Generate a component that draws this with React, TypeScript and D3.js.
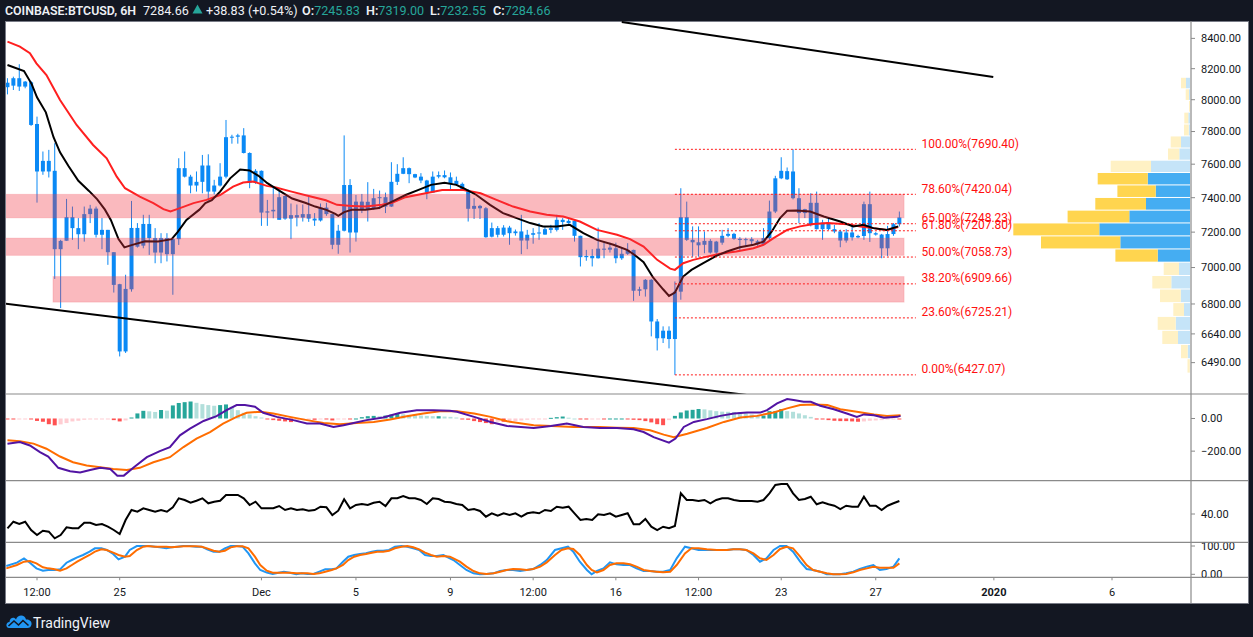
import { useEffect } from "react";
import * as d3 from "d3";

// ---- layout of the TradingView frame ----
const W = 1253;
const H = 637;
const LEFT = 6;
const PLOT_R = 1191; // price axis line
const RIGHT = 1248;
const TOP = 21;
const MAIN_B = 394;
const MACD_B = 480.7;
const RSI_B = 542.3;
const STOCH_B = 577.3;
const BOTTOM = 603;

const FONT = "Roboto, 'Noto Sans', sans-serif";

// ---- COINBASE:BTCUSD 6H candles, Nov 20 06:00 .. Dec 28 00:00 ----
const opens = [
  8080, 8090, 8138, 8084, 8112, 7847, 7556, 7620, 7560, 7103, 7151, 7286, 7223, 7188, 7304, 7336, 7185, 7213, 7086, 6908,
  6548, 6880, 7224, 7123, 7247, 7166, 7084, 7166, 7075, 7160, 7576, 7525, 7472, 7494, 7592, 7436, 7472, 7525, 7765, 7768,
  7776, 7668, 7488, 7560, 7313, 7320, 7271, 7410, 7278, 7298, 7284, 7304, 7278, 7267, 7342, 7304, 7128, 7208, 7475, 7198,
  7377, 7330, 7340, 7397, 7403, 7348, 7494, 7542, 7576, 7540, 7525, 7502, 7430, 7525, 7534, 7521, 7478, 7482, 7446, 7335,
  7352, 7338, 7174, 7223, 7185, 7226, 7194, 7204, 7152, 7185, 7194, 7186, 7213, 7213, 7271, 7252, 7265, 7179, 7058, 7065,
  7052, 7106, 7100, 7108, 7052, 7077, 7099, 6872, 6880, 6932, 6706, 6617, 6657, 6613, 6867, 7286, 7156, 7142, 7128, 7150,
  7084, 7140, 7179, 7190, 7162, 7155, 7160, 7148, 7130, 7166, 7319, 7515, 7509, 7556, 7397, 7310, 7240, 7370, 7217, 7255,
  7217, 7204, 7152, 7198, 7170, 7178, 7362, 7194, 7186, 7108, 7189, 7245.83,
];
const highs = [
  8138, 8148, 8229, 8120, 8120, 7893, 7677, 7687, 7728, 7156, 7393, 7348, 7281, 7348, 7358, 7348, 7281, 7213, 7086, 6910,
  6960, 7381, 7252, 7300, 7300, 7223, 7194, 7194, 7166, 7636, 7677, 7536, 7556, 7656, 7660, 7506, 7606, 7872, 7780, 7786,
  7821, 7672, 7570, 7562, 7387, 7470, 7450, 7412, 7366, 7360, 7360, 7416, 7310, 7366, 7370, 7306, 7242, 7776, 7510, 7416,
  7422, 7492, 7452, 7442, 7430, 7612, 7600, 7642, 7580, 7542, 7546, 7506, 7556, 7556, 7562, 7550, 7525, 7490, 7450, 7397,
  7358, 7345, 7255, 7235, 7240, 7236, 7215, 7300, 7213, 7223, 7252, 7233, 7242, 7300, 7281, 7275, 7268, 7180, 7099, 7103,
  7226, 7140, 7140, 7140, 7108, 7137, 7100, 6894, 6936, 6936, 6719, 6680, 6680, 6923, 7456, 7377, 7233, 7233, 7204, 7160,
  7150, 7213, 7223, 7196, 7171, 7168, 7171, 7156, 7223, 7383, 7530, 7642, 7580, 7690.4, 7456, 7335, 7426, 7436, 7271, 7276,
  7242, 7214, 7217, 7246, 7185, 7377, 7436, 7200, 7190, 7236, 7252, 7319.0,
];
const lows = [
  8034, 8062, 8056, 8073, 7835, 7371, 7536, 7520, 6937, 6778, 7151, 7156, 7103, 7146, 7252, 7169, 7103, 7015, 6862, 6522,
  6540, 6867, 7112, 7108, 7071, 7024, 7024, 7034, 6850, 7127, 7520, 7426, 7436, 7426, 7382, 7420, 7466, 7515, 7725, 7725,
  7665, 7456, 7482, 7236, 7236, 7280, 7271, 7271, 7160, 7233, 7261, 7259, 7236, 7261, 7294, 7103, 7077, 7204, 7084, 7146,
  7310, 7261, 7329, 7333, 7310, 7346, 7475, 7540, 7486, 7516, 7486, 7391, 7430, 7515, 7515, 7450, 7470, 7440, 7261, 7276,
  7276, 7168, 7170, 7170, 7175, 7128, 7180, 7075, 7103, 7134, 7156, 7185, 7194, 7204, 7213, 7248, 7146, 7006, 7038, 7006,
  7050, 7052, 7084, 7024, 7043, 7071, 6817, 6844, 6840, 6627, 6553, 6592, 6564, 6427.07, 6823, 7150, 7060, 7061, 7080, 7078,
  7075, 7128, 7171, 7156, 7095, 7118, 7128, 7122, 7125, 7156, 7310, 7510, 7505, 7390, 7252, 7281, 7233, 7215, 7156, 7212,
  7194, 7114, 7140, 7152, 7165, 7156, 7144, 7180, 7052, 7065, 7179, 7232.55,
];
const closes = [
  8109, 8138, 8084, 8116, 7841, 7556, 7620, 7556, 7103, 7150, 7286, 7223, 7188, 7304, 7336, 7185, 7213, 7086, 6904, 6548,
  6882, 7224, 7117, 7247, 7166, 7084, 7166, 7075, 7160, 7576, 7525, 7472, 7494, 7592, 7436, 7472, 7525, 7765, 7768, 7776,
  7668, 7488, 7560, 7313, 7320, 7329, 7403, 7278, 7298, 7284, 7304, 7278, 7267, 7342, 7304, 7128, 7208, 7475, 7198, 7377,
  7330, 7376, 7397, 7403, 7348, 7494, 7542, 7576, 7540, 7520, 7502, 7430, 7525, 7534, 7521, 7480, 7500, 7446, 7335, 7352,
  7338, 7171, 7223, 7185, 7226, 7194, 7204, 7152, 7185, 7194, 7198, 7217, 7223, 7271, 7258, 7265, 7179, 7058, 7065, 7052,
  7106, 7100, 7112, 7052, 7077, 7099, 6872, 6880, 6932, 6706, 6617, 6657, 6613, 6867, 7286, 7156, 7142, 7125, 7150, 7084,
  7146, 7179, 7190, 7162, 7155, 7160, 7148, 7130, 7166, 7319, 7515, 7560, 7558, 7397, 7310, 7333, 7370, 7217, 7255, 7217,
  7204, 7152, 7198, 7170, 7178, 7362, 7194, 7186, 7108, 7189, 7246, 7284.66,
];

// moving averages: [bar index, price]
const emaFast: [number, number][] = [
  [0, 8224], [2.8, 8185], [4.1, 8100], [5, 8015], [6.5, 7920], [7.8, 7765], [8.9, 7672], [10.3, 7590], [12, 7500],
  [13.8, 7440], [15.2, 7390], [16.5, 7330], [17.5, 7270], [18.8, 7160], [19.8, 7113], [21, 7126], [23.3, 7148],
  [25.5, 7146], [27.8, 7160], [28.8, 7200], [30.3, 7270], [32.5, 7330], [33.5, 7368], [34.6, 7385], [36, 7436],
  [37.7, 7515], [39.4, 7568], [41, 7562], [42.5, 7530], [44, 7486], [46, 7442], [48.2, 7395], [50.4, 7370],
  [52.1, 7348], [54, 7329], [55.5, 7305], [56, 7294], [57, 7316], [58.3, 7329], [60.6, 7329], [62.9, 7339],
  [65.1, 7377], [67.4, 7416], [69.6, 7446], [71.7, 7476], [74, 7488], [76, 7476], [77.2, 7456], [79.4, 7416],
  [81.7, 7358], [83.9, 7310], [86.2, 7281], [88.5, 7252], [90.7, 7233], [93, 7233], [95.2, 7242], [97.5, 7194],
  [99.8, 7156], [102.6, 7128], [104.9, 7099], [106.2, 7070], [107.7, 7030], [109.3, 6945], [111, 6880], [112, 6844],
  [113, 6862], [114.4, 6950], [115.8, 6987], [117.8, 7024], [120, 7065], [121.8, 7090], [124, 7114], [126.3, 7128],
  [128, 7146], [129.4, 7204], [130.8, 7281], [132, 7323], [133.6, 7325], [135.9, 7319], [138.2, 7290], [141, 7261],
  [143.2, 7233], [144.9, 7242], [146.6, 7223], [148.9, 7213], [150.8, 7233],
];
const emaSlow: [number, number][] = [
  [0, 8378], [2.1, 8345], [3.8, 8302], [4.9, 8235], [6.6, 8159], [8.9, 7998], [11.7, 7841], [14.5, 7717],
  [16.8, 7636], [18.5, 7525], [19.9, 7456], [22.4, 7406], [24.7, 7368], [26.4, 7333], [27.6, 7319], [29.2, 7339],
  [31.5, 7368], [33.7, 7387], [36, 7416], [38.2, 7466], [39.9, 7490], [41.6, 7496], [43.9, 7470], [45.3, 7462],
  [48.1, 7436], [51, 7410], [53.9, 7385], [55.8, 7358], [58.3, 7352], [60.6, 7348], [63.4, 7358], [65.1, 7370],
  [67.4, 7403], [70.8, 7426], [73.6, 7446], [77.2, 7446], [80.1, 7426], [82.8, 7387], [85.6, 7348], [88.5, 7319],
  [91.3, 7300], [94.1, 7290], [96.9, 7261], [99.8, 7213], [103.2, 7185], [105.4, 7160], [107.7, 7118], [110, 7043],
  [112.2, 6994], [113, 6987], [114.4, 7024], [116.1, 7043], [118.4, 7061], [120.6, 7077], [123.4, 7090],
  [126.3, 7108], [128, 7128], [129.7, 7166], [132, 7213], [134.2, 7233], [136.5, 7247], [138.8, 7252],
  [142.2, 7246], [144.4, 7233], [146.6, 7223], [148.9, 7213], [150.8, 7229],
];

// drawings
const zoneLow = [7282, 7068, 6810];
const zoneHigh = [7420, 7166, 6950];
const zoneStart = [-3, -3, 7.7];
const zoneEnd = 151.8;

const fibPct = [100, 78.6, 65, 61.8, 50, 38.2, 23.6, 0];
const fibPrice = [7690.4, 7420.04, 7248.23, 7207.8, 7058.73, 6909.66, 6725.21, 6427.07];
const fibStart = 113;
const fibEnd = 153.8;

const trendUpper: [number, number][] = [[104, 8510], [166.9, 8146]];
const trendLower: [number, number][] = [[-0.3, 6801], [126, 6322]];

// visible range volume profile, bottom row first
const vpLow = 6436;
const vpStep = 74.26;
const vpDown = [23, 67, 157, 180, 107, 207, 190, 153, 423, 793, 860, 617, 507, 383, 500, 403, 113, 103, 47, 40, 10, 33, 50];
const vpUp = [2, 23, 120, 143, 60, 93, 187, 110, 323, 697, 907, 607, 440, 343, 423, 390, 107, 90, 13, 17, 0, 10, 40];
const vaFirst = 8;
const vaLast = 14;

// MACD
const macdHist = [
  -3, -3, -2, -1, -6, -15, -20, -35, -42, -36, -28, -18, -14, -8, -5, -4, -3, -2, -10, -18, -12,
  6, 31, 47, 44, 40, 52, 48, 80, 95, 100, 104, 96, 88, 82, 78, 82, 86, 72, 51, 35, 25, 14, 6,
  -6, -10, -14, -18, -22, -14, -10, -8, -8, -6, -6, -12, -6, -3, -3, 0, 8, 14, 16, 14, 18, 24, 30, 26, 22, 20, 18, 16,
  14, 14, 12, 10,
  6, -4, -8, -16, -22, -28, -35, -20, -20, -18, -16, -12, -8, -5, -3, -1, 4, 8, 12, 5, 0, -5, -6, -3, -2, -2, 0, 0, 0,
  -6, -8, -10, -16, -24, -35, -41, -10, 16, 37, 49, 53, 58, 56, 50, 45, 42, 41, 40, 37, 33, 25, 16, 18, 45, 45, 58, 45,
  41, 31, 20, 10, -4, -6, -10, -14, -16, -16, -18, -20, -18, -14, -12, -10, -6, -4, -6,
];
const macdLine: [number, number][] = [
  [0, -154], [2.1, -144], [3.8, -165], [5.5, -206], [6.9, -233], [8.6, -302], [10.6, -323], [12.3, -330], [14, -315],
  [15.7, -302], [17.4, -309], [18.6, -350], [19.7, -350], [21.3, -302], [23.6, -237], [25.8, -200], [27.5, -175],
  [29.2, -103], [30.9, -62], [33.2, -15], [35.4, 14], [37.1, 51], [38.8, 82], [40.2, 82], [41.9, 72], [43.3, 35],
  [45.6, 10], [48.4, -10], [50.7, -31], [52.9, -31], [55.2, -52], [56.9, -41], [58.6, -27], [60.8, -10], [63.6, 6],
  [66.5, 35], [69.3, 51], [72.1, 51], [74.9, 48], [76.1, 41], [79, 10], [81.8, -21], [84.6, -46], [89.1, -58],
  [92, -46], [94.7, -31], [97.5, -52], [100.3, -58], [103.2, -58], [106, -66], [107.7, -83], [109.4, -114],
  [112, -148], [113.1, -123], [114.5, -52], [116.2, -21], [118.4, -4], [120.7, 16], [123, 31], [125.2, 37],
  [127.5, 37], [128.6, 51], [130.3, 93], [132, 119], [133.1, 113], [134.8, 102], [136, 102], [137.6, 78],
  [139.9, 57], [142.1, 31], [143.8, 10], [145, 25], [146.7, 20], [148.4, 4], [150.6, 10], [151.2, 16],
];
const macdSignal: [number, number][] = [
  [0, -134], [2.1, -140], [4.4, -154], [6.6, -185], [8.9, -233], [11.1, -268], [13.4, -288], [15.7, -299],
  [17.9, -309], [20.2, -315], [22.4, -302], [24.7, -268], [27.5, -237], [29.8, -175], [32, -123], [34.3, -83],
  [36.5, -31], [38.8, 10], [40.5, 35], [42.8, 41], [45, 31], [47.8, 10], [50.7, -10], [53.5, -27], [56.3, -35],
  [59.1, -27], [62, -21], [64.8, -6], [67.6, 14], [70.4, 31], [73.2, 45], [76.1, 45], [79, 31], [81.8, 10],
  [84.6, -17], [89.1, -41], [93.1, -48], [95.9, -52], [100.3, -52], [103.2, -56], [106, -58], [108.8, -72],
  [111.1, -99], [112.8, -114], [115.1, -93], [118.4, -58], [121.3, -21], [124.1, 6], [126.9, 16], [129.7, 37],
  [132, 62], [134.2, 82], [136.5, 86], [138.8, 82], [141, 57], [143.8, 41], [146.7, 25], [148.9, 16], [151.2, 20],
];

// RSI, one value per bar
const rsi = [
  25.7, 32.3, 30, 32.3, 24, 19, 23.3, 22.3, 15.7, 19, 26.7, 25.7, 25.7, 31.3, 31.3, 29, 30, 27.3, 24, 20,
  34, 44, 42.3, 45.7, 44, 42.3, 44, 42.3, 46.7, 55.7, 54, 51.3, 53.3, 55.7, 50.7, 52.3, 53.3, 59, 59, 59,
  55.7, 49, 52.3, 45.7, 45.7, 45.7, 48, 44, 45.7, 44, 44.7, 43.3, 44, 47.3, 46.7, 39, 43.3, 54.7, 45.7, 49,
  50, 49, 51.3, 52.3, 48, 55.7, 55.7, 58, 55.7, 55.7, 54, 50, 55.7, 55, 52.3, 51.7, 50, 49, 44, 45,
  43, 37.3, 40.7, 38.3, 40.7, 39, 40.7, 37.3, 40.7, 41.7, 40.7, 44, 43, 47.3, 46.3, 47.3, 40.7, 34, 35, 34,
  39.7, 39, 40.7, 37.3, 39, 40.7, 29.7, 29.7, 35, 27.3, 24, 27.3, 25.7, 28, 60.7, 54, 54, 53, 54, 50.7,
  54, 55.7, 55.7, 54, 53, 53, 53, 52.3, 54, 60.7, 69, 70, 70, 60.7, 54, 55, 57.3, 49.7, 51.7, 49.7,
  48.3, 45, 48.3, 47.3, 47.3, 57.3, 48.3, 48.3, 44, 48.3, 50.7, 53,
];

// Stochastic %K / %D, sampled at these bar positions
const stochIdx = [
  -0.2, 1.6, 2.8, 3.8, 4.9, 6, 6.9, 8, 8.9, 10, 10.9, 11.8, 12.8, 13.9, 14.8, 15.9, 16.8, 17.9, 18.8, 19.9,
  20.7, 21.9, 23, 23.8, 25, 25.8, 26.9, 27.8, 28.8, 29.8, 30.9, 31.9, 32.9, 33.8, 34.9, 35.9, 36.8, 37.8, 38.8, 39.8,
  40.8, 41.9, 42.8, 43.9, 44.9, 45.9, 46.8, 47.8, 48.9, 49.8, 50.8, 51.8, 52.8, 53.8, 54.9, 55.7, 56.8, 57.7, 58.7, 59.7,
  60.7, 61.7, 62.6, 63.6, 64.6, 65.6, 66.7, 67.7, 68.7, 69.7, 70.7, 71.7, 72.7, 73.8, 74.9,
  75.5, 76.6, 77.7, 78.9, 80, 81.1, 82.3, 83.4, 84.5, 85.6, 86.8, 87.9, 89, 90.2, 91.3, 92.7, 93.8, 94.9, 95.8, 96.9,
  98.1, 98.9, 99.8, 100.9, 102, 103.1, 104.3, 105.4, 106.5, 107.7, 108.8, 109.9, 111, 112.2, 113.3, 114.7, 115.8, 117,
  118.4, 120.1, 121.8, 122.9, 124, 125.1, 126.3, 127.4, 128.5, 129.7, 130.8, 131.9, 133, 134.2, 135.3, 136.4, 137.6,
  138.7, 139.8, 140.9, 142, 143.2, 144.3, 145.5, 146.6, 147.7, 148.8, 150, 151,
];
const stochK = [
  29.3, 41, 56.4, 41, 21, 12.8, 15.2, 15.2, 17.5, 41, 50.5, 60, 68.2, 80, 91.8, 91.8, 85.9, 71.7, 52.9, 62.3,
  85.9, 100, 100, 100, 97.6, 95.3, 91.8, 95.3, 97.6, 100, 100, 97.6, 97.6, 88.2, 80, 80, 91.8, 100, 100, 97.6,
  74.1, 38.8, 15.2, 5.8, 1, 5.8, 9.3, 5.8, 0, 3.4, 1, 1, 9.3, 17.5, 17.5, 21, 44.6, 62.3, 68.2, 71.7,
  74.1, 80, 83.5, 83.5, 85.9, 97.6, 100, 97.6, 91.8, 85.9, 68.2, 64.7, 64.7, 68.2, 56.4,
  50.5, 32.9, 15.2, 3.4, 0, 1, 3.4, 11.7, 15.2, 15.2, 11.7, 15.2, 18.7, 32.9, 50.5, 85.9, 91.8, 97.6, 80, 44.6,
  15.2, 0, 11.7, 21, 42.3, 35.2, 32.9, 32.9, 21, 11.7, 11.7, 9.3, 9.3, 15.2, 56.4, 97.6, 91.8, 85.9,
  85.9, 85.9, 85.9, 88.2, 88.2, 85.9, 68.2, 44.6, 56.4, 85.9, 100, 100, 80, 44.6, 18.7, 15.2, 9.3,
  0, 0, 0, 3.4, 9.3, 18.7, 27, 32.9, 15.2, 18.7, 27, 56.4,
];
const stochD = [
  21, 32.9, 44.6, 47, 38.8, 24.6, 21, 17.5, 12.8, 21, 32.9, 44.6, 56.4, 68.2, 80, 88.2, 85.9, 76.4, 68.2, 62.3,
  64.7, 85.9, 97.6, 100, 97.6, 97.6, 97.6, 95.3, 97.6, 99, 99, 99, 97.6, 91.8, 83.5, 80, 83.5, 95.3, 99, 99,
  91.8, 62.3, 32.9, 12.8, 5.8, 5.8, 5.8, 5.8, 3.4, 3.4, 3.4, 1, 3.4, 9.3, 15.2, 21, 32.9, 50.5, 62.3, 68.2,
  71.7, 76.4, 80, 80, 83.5, 91.8, 97.6, 100, 95.3, 88.2, 76.4, 68.2, 62.3, 64.7, 62.3,
  56.4, 44.6, 27, 11.7, 3.4, 1, 3.4, 9.3, 15.2, 18.7, 17.5, 15.2, 18.7, 27, 42.3, 68.2, 85.9, 91.8, 89.5, 68.2,
  32.9, 15.2, 7, 15.2, 32.9, 38.8, 38.8, 35.2, 27, 15.2, 11.7, 9.3, 7, 9.3, 32.9, 74, 91.8, 91.8,
  88.2, 85.9, 85.9, 88.2, 88.2, 85.9, 74, 56.4, 50.5, 68.2, 89.5, 97.6, 91.8, 62.3, 32.9, 15.2, 9.3,
  3.4, 0, 0, 1, 7, 15.2, 21, 27, 23.4, 23.4, 23.4, 38.8,
];

// axes
const priceTicks = [8400, 8200, 8000, 7800, 7600, 7400, 7200, 7000, 6800, 6640, 6490];
const macdTicks = [0, -200];
const rsiTicks = [40];
const stochTicks = [100, 0];
const timeTickIdx = [5, 19, 43, 59, 75, 89, 103, 117, 131, 147, 167, 187];
const timeTickLabel = ["12:00", "25", "Dec", "5", "9", "12:00", "16", "12:00", "23", "27", "2020", "6"];

const CANDLE = "#0a89f5";
const TEAL = "#26a69a";

export default function App() {
  useEffect(() => {
    document.body.style.margin = "0";
    document.body.style.background = "#131722";
  }, []);

  const x = d3.scaleLinear().domain([5, 187]).range([37, 1112]);
  const y = d3.scaleLog().domain([6330, 8517]).range([MAIN_B, TOP]);
  const yMacd = d3.scaleLinear().domain([-381, 150]).range([MACD_B, MAIN_B]);
  const yRsi = d3.scaleLinear().domain([11.7, 73.3]).range([RSI_B, MACD_B]);
  const yStoch = d3.scaleLinear().domain([-10.6, 113.1]).range([STOCH_B, RSI_B]);
  const vpW = d3.scaleLinear().domain([0, 1767]).range([0, 176.7]);

  const priceLine = d3.line<[number, number]>().x((d) => x(d[0])).y((d) => y(d[1]));
  const macdPath = d3.line<[number, number]>().x((d) => x(d[0])).y((d) => yMacd(d[1]));
  const rsiPath = d3.line<number>().x((_, i) => x(i)).y((d) => yRsi(d));
  const stochPath = (vals: number[]) =>
    d3.line<number>().x((_, i) => x(stochIdx[i])).y((d) => yStoch(Math.max(0, Math.min(100, d))))(vals) ?? "";

  const axisLabel = { fontFamily: FONT, fontSize: 11, fill: "#131722" };
  const head = { fontFamily: FONT, fontSize: 12.6, fill: "#eef0f5" };

  return (
    <svg width={W} height={H} style={{ display: "block", position: "absolute", left: 0, top: 0 }}>
      <defs>
        <clipPath id="cMain">
          <rect x={LEFT} y={TOP} width={PLOT_R - LEFT} height={MAIN_B - TOP} />
        </clipPath>
        <clipPath id="cMacd">
          <rect x={LEFT} y={MAIN_B} width={PLOT_R - LEFT} height={MACD_B - MAIN_B} />
        </clipPath>
        <clipPath id="cRsi">
          <rect x={LEFT} y={MACD_B} width={PLOT_R - LEFT} height={RSI_B - MACD_B} />
        </clipPath>
        <clipPath id="cStoch">
          <rect x={LEFT} y={RSI_B} width={PLOT_R - LEFT} height={STOCH_B - RSI_B} />
        </clipPath>
        <clipPath id="cStochAxis">
          <rect x={PLOT_R} y={RSI_B + 0.5} width={RIGHT - PLOT_R} height={STOCH_B - RSI_B - 0.5} />
        </clipPath>
      </defs>

      <rect width={W} height={H} fill="#131722" />

      {/* header */}
      <text x={5} y={14.5} {...head} fontWeight={600} textLength={131} lengthAdjust="spacingAndGlyphs">
        COINBASE:BTCUSD, 6H
      </text>
      <text y={14.5} {...head}>
        <tspan x={143}>7284.66</tspan>
        <tspan x={206}>+38.83 (+0.54%)</tspan>
        <tspan x={302} fontWeight={600}>O:</tspan>
        <tspan fill={TEAL}>7245.83</tspan>
        <tspan x={366} fontWeight={600}>H:</tspan>
        <tspan fill={TEAL}>7319.00</tspan>
        <tspan x={430} fontWeight={600}>L:</tspan>
        <tspan fill={TEAL}>7232.55</tspan>
        <tspan x={493} fontWeight={600}>C:</tspan>
        <tspan fill={TEAL}>7284.66</tspan>
      </text>
      <path d="M192.5 13.5 L197.5 4.5 L202.5 13.5 Z" fill={TEAL} />

      {/* chart canvas */}
      <rect x={5.5} y={21.5} width={1243} height={582} fill="#ffffff" stroke="#787b86" />

      {/* main pane */}
      <g clipPath="url(#cMain)">
        {vpDown.map((dn, b) => {
          const up = vpUp[b];
          const yTop = y(vpLow + (b + 1) * vpStep) + 0.5;
          const yBot = y(vpLow + b * vpStep) - 0.5;
          const inVa = b >= vaFirst && b <= vaLast;
          const wu = vpW(up);
          const wd = vpW(dn);
          const xr = PLOT_R - 1;
          return (
            <g key={"vp" + b}>
              <rect x={xr - wu} y={yTop} width={wu} height={yBot - yTop} fill={inVa ? "#45adf2" : "#c5e4f8"} />
              <rect x={xr - wu - wd} y={yTop} width={wd} height={yBot - yTop} fill={inVa ? "#ffd54f" : "#fff1c4"} />
            </g>
          );
        })}

        {opens.map((o, i) => {
          const c = closes[i];
          const cx = x(i);
          const top = y(Math.max(o, c));
          const bot = y(Math.min(o, c));
          return (
            <g key={"c" + i}>
              <line x1={cx} x2={cx} y1={y(highs[i])} y2={y(lows[i])} stroke={CANDLE} strokeWidth={1} />
              <rect x={cx - 2} y={top} width={4} height={Math.max(1, bot - top)} fill={CANDLE} />
            </g>
          );
        })}

        <path d={priceLine(emaSlow) ?? ""} fill="none" stroke="#ff1f1f" strokeWidth={2} />
        <path d={priceLine(emaFast) ?? ""} fill="none" stroke="#000000" strokeWidth={2} />

        {zoneLow.map((lo, k) => (
          <rect
            key={"z" + k}
            x={x(zoneStart[k])}
            y={y(zoneHigh[k])}
            width={x(zoneEnd) - x(zoneStart[k])}
            height={y(lo) - y(zoneHigh[k])}
            fill="rgba(242,54,69,0.35)"
            stroke="rgba(242,54,69,0.15)"
          />
        ))}

        {fibPrice.map((p, k) => (
          <g key={"f" + k}>
            <line
              x1={x(fibStart)}
              x2={x(fibEnd)}
              y1={y(p)}
              y2={y(p)}
              stroke="#ff1a1a"
              strokeWidth={1}
              strokeDasharray="2,2"
            />
            <text x={x(fibEnd) + 5.5} y={y(p) - 1.5} fontFamily={FONT} fontSize={12} fill="#ff1010">
              {`${fibPct[k].toFixed(2)}%(${p.toFixed(2)})`}
            </text>
          </g>
        ))}

        {[trendUpper, trendLower].map((tl, k) => (
          <path key={"t" + k} d={priceLine(tl) ?? ""} stroke="#000" strokeWidth={2} fill="none" />
        ))}
      </g>

      {/* MACD */}
      <g clipPath="url(#cMacd)">
        {macdHist.map((v, i) => {
          const prev = i > 0 ? macdHist[i - 1] : v;
          const fill = v >= 0 ? (v >= prev ? TEAL : "#b2dfdb") : v <= prev ? "#ff5252" : "#ffcdd2";
          const y0 = yMacd(0);
          const y1 = yMacd(v);
          return (
            <rect
              key={"h" + i}
              x={x(i) - 2}
              y={Math.min(y0, y1)}
              width={4}
              height={Math.max(1, Math.abs(y1 - y0))}
              fill={fill}
            />
          );
        })}
        <path d={macdPath(macdSignal) ?? ""} fill="none" stroke="#ff6d00" strokeWidth={2} />
        <path d={macdPath(macdLine) ?? ""} fill="none" stroke="#5214a3" strokeWidth={2} />
      </g>

      {/* RSI */}
      <g clipPath="url(#cRsi)">
        <path d={rsiPath(rsi) ?? ""} fill="none" stroke="#000" strokeWidth={2} />
      </g>

      {/* Stochastic */}
      <g clipPath="url(#cStoch)">
        <path d={stochPath(stochK)} fill="none" stroke="#2196f3" strokeWidth={2} />
        <path d={stochPath(stochD)} fill="none" stroke="#ff6d00" strokeWidth={2} />
      </g>

      {/* pane separators */}
      {[MAIN_B, MACD_B, RSI_B, STOCH_B].map((sy, k) => (
        <line key={"s" + k} x1={LEFT} x2={RIGHT} y1={sy} y2={sy} stroke="#8a8a8a" strokeWidth={1.2} />
      ))}
      <line x1={PLOT_R} x2={PLOT_R} y1={TOP} y2={BOTTOM} stroke="#8a8a8a" strokeWidth={1.2} />

      {/* price axis */}
      {priceTicks.map((p) => (
        <g key={"p" + p}>
          <line x1={PLOT_R} x2={PLOT_R + 4} y1={y(p)} y2={y(p)} stroke="#8a8a8a" />
          <text x={1201} y={y(p)} dy="0.35em" {...axisLabel}>
            {p.toFixed(2)}
          </text>
        </g>
      ))}
      {macdTicks.map((v) => (
        <g key={"m" + v}>
          <line x1={PLOT_R} x2={PLOT_R + 4} y1={yMacd(v)} y2={yMacd(v)} stroke="#8a8a8a" />
          <text x={1201} y={yMacd(v)} dy="0.35em" {...axisLabel}>
            {v < 0 ? "\u2212" + Math.abs(v).toFixed(2) : v.toFixed(2)}
          </text>
        </g>
      ))}
      {rsiTicks.map((v) => (
        <g key={"r" + v}>
          <line x1={PLOT_R} x2={PLOT_R + 4} y1={yRsi(v)} y2={yRsi(v)} stroke="#8a8a8a" />
          <text x={1201} y={yRsi(v)} dy="0.35em" {...axisLabel}>
            {v.toFixed(2)}
          </text>
        </g>
      ))}
      <g clipPath="url(#cStochAxis)">
        {stochTicks.map((v) => (
          <g key={"st" + v}>
            <line x1={PLOT_R} x2={PLOT_R + 4} y1={yStoch(v)} y2={yStoch(v)} stroke="#8a8a8a" />
            <text x={1201} y={yStoch(v)} dy="0.35em" {...axisLabel}>
              {v.toFixed(2)}
            </text>
          </g>
        ))}
      </g>

      {/* time axis */}
      {timeTickIdx.map((ti, k) => (
        <g key={"tt" + k}>
          <line x1={x(ti)} x2={x(ti)} y1={STOCH_B} y2={STOCH_B + 3} stroke="#8a8a8a" />
          <text
            x={x(ti)}
            y={592}
            dy="0.35em"
            textAnchor="middle"
            fontWeight={timeTickLabel[k] === "2020" ? 700 : 400}
            {...axisLabel}
          >
            {timeTickLabel[k]}
          </text>
        </g>
      ))}

      {/* footer */}
      <g transform="translate(6,612)">
        <path
          d="M3 16 C-0.5 16 -0.5 10 3.5 10 C3.5 5.5 8.5 4.5 10 7.5 C11.5 2 19 2 20 7.5 C23.5 7 26 9.5 25.5 12.5 C25 15 23.5 16 21.5 16 Z"
          fill="#2196f3"
        />
        <path d="M2.5 14 L8 9 L12.5 13 L17 8.5 L22.5 13.5" fill="none" stroke="#131722" strokeWidth={1.6} />
      </g>
      <text x={33} y={627.5} fontFamily={FONT} fontSize={14} fill="#f0f3fa">
        TradingView
      </text>
    </svg>
  );
}
